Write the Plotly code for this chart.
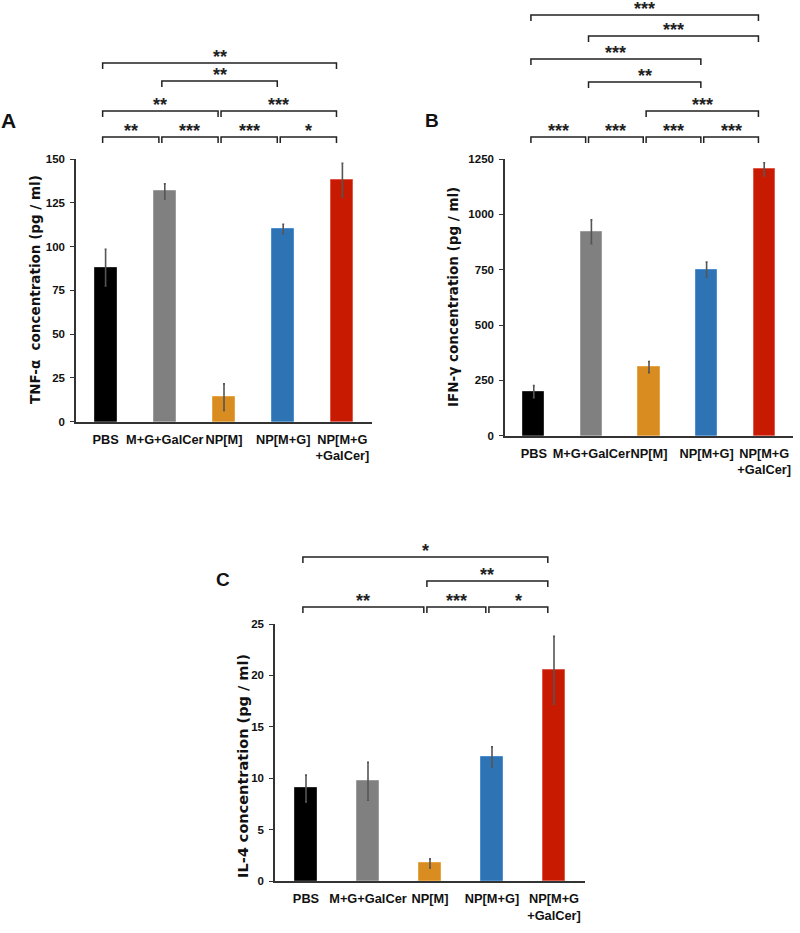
import plotly.graph_objects as go

W, H = 800, 933

# ---------------- data ----------------
categories = ["PBS", "M+G+GalCer", "NP[M]", "NP[M+G]", "NP[M+G<br>+GalCer]"]
bar_colors = ["#000000", "#808080", "#D98C20", "#2E74B5", "#C81A00"]
bar_outlines = ["#2a2a2a", "#9c9c9c", "#E6A445", "#4C8FD0", "#E0584A"]

tnf_values = [88, 131.5, 14, 110, 138]
tnf_errors = [10.5, 4.3, 7.6, 2.7, 9.6]
ifn_values = [199, 921, 310, 750, 1203]
ifn_errors = [27, 54, 25, 34, 30]
il4_values = [9.0, 9.7, 1.72, 12.05, 20.5]
il4_errors = [1.3, 1.85, 0.45, 1.0, 3.3]

tnf_ticks = [0, 25, 50, 75, 100, 125, 150]
ifn_ticks = [0, 250, 500, 750, 1000, 1250]
il4_ticks = [0, 5, 10, 15, 20, 25]

# significance comparisons: (group i, group j, label)
tnf_sig = [(0, 1, "**"), (1, 2, "***"), (2, 3, "***"), (3, 4, "*"),
           (0, 2, "**"), (2, 4, "***"), (1, 3, "**"), (0, 4, "**")]
ifn_sig = [(0, 1, "***"), (1, 2, "***"), (2, 3, "***"), (3, 4, "***"),
           (2, 4, "***"), (1, 3, "**"), (0, 3, "***"), (1, 4, "***"), (0, 4, "***")]
il4_sig = [(0, 2, "**"), (2, 3, "***"), (3, 4, "*"), (2, 4, "**"), (0, 4, "*")]

# ---------------- layout (pixels) ----------------
panels = [
    dict(name="A", xd=(76, 372), yd=(159, 421.7), rng=150, ticks=tnf_ticks,
         vals=tnf_values, errs=tnf_errors, sig=tnf_sig,
         levels=[22, 22, 22, 22, 48, 48, 78, 96],
         title="TNF-α\u00a0 concentration (pg / ml)", title_pos=(35, 290), title_size=13.5,
         label_pos=(8, 120), label_size=21),
    dict(name="B", xd=(505, 793), yd=(159, 435.7), rng=1250, ticks=ifn_ticks,
         vals=ifn_values, errs=ifn_errors, sig=ifn_sig,
         levels=[22, 22, 22, 22, 48, 77, 100, 123, 144],
         title="IFN-γ concentration (pg / ml)", title_pos=(453, 297), title_size=13.5,
         label_pos=(432, 120), label_size=19),
    dict(name="C", xd=(275, 585), yd=(624, 881), rng=25, ticks=il4_ticks,
         vals=il4_values, errs=il4_errors, sig=il4_sig,
         levels=[17, 17, 17, 43, 67],
         title="IL-4 concentration (pg / ml)", title_pos=(243, 766), title_size=14.5,
         label_pos=(223, 579), label_size=19),
]

TICK_FONT = "Liberation Sans Narrow, Arial Narrow, Liberation Sans, Arial, sans-serif"
TITLE_FONT = "DejaVu Sans, Verdana, sans-serif"

fig = go.Figure()
shapes = []
annotations = []

def fx(px):
    return px / W

def fy(py):
    return 1 - py / H

for k, p in enumerate(panels):
    sfx = "" if k == 0 else str(k + 1)
    xa, ya = "x" + sfx, "y" + sfx
    fig.add_trace(go.Bar(
        x=list(range(len(categories))), y=p["vals"],
        marker=dict(color=bar_colors, line=dict(color=bar_outlines, width=1)),
        width=0.37,
        error_y=dict(type="data", array=p["errs"], color="#555555", thickness=1.6, width=1),
        xaxis=xa, yaxis=ya, showlegend=False, hoverinfo="y",
    ))
    x0, x1 = p["xd"]
    y0, y1 = p["yd"]
    fig.layout["xaxis" + sfx] = dict(
        domain=[fx(x0), fx(x1)], anchor=ya, range=[-0.5, 4.5],
        tickmode="array", tickvals=list(range(len(categories))), ticktext=categories,
        tickangle=0, automargin=False,
        showline=True, linecolor="#333333", linewidth=1.5, ticks="", showgrid=False,
        zeroline=False, ticklabelstandoff=5,
        tickfont=dict(family=TICK_FONT, size=12.8, color="#111111", weight="bold"),
    )
    fig.layout["yaxis" + sfx] = dict(
        domain=[fy(y1), fy(y0)], anchor=xa, range=[0, p["rng"]],
        tickmode="array", tickvals=p["ticks"], automargin=False,
        showline=True, linecolor="#333333", linewidth=1.5, ticks="outside",
        ticklen=4, tickwidth=1.2, tickcolor="#333333", showgrid=False, zeroline=False,
        ticklabelstandoff=3,
        tickfont=dict(family=TICK_FONT, size=11.5, color="#111111", weight="bold"),
    )

    def cat_px(c):
        return x0 + (c + 0.5) / 5 * (x1 - x0)

    for (i, j, lab), lev in zip(p["sig"], p["levels"]):
        xl = cat_px(i - 0.05)
        xr = cat_px(j - 0.1)
        yl = y0 - lev
        path = "M {},{} L {},{} L {},{} L {},{}".format(
            fx(xl), fy(yl + 6), fx(xl), fy(yl), fx(xr), fy(yl), fx(xr), fy(yl + 6))
        shapes.append(dict(type="path", path=path, xref="paper", yref="paper",
                           line=dict(color="#222222", width=1.5)))
        annotations.append(dict(
            x=fx((xl + xr) / 2), y=fy(yl - 10), xref="paper", yref="paper",
            text=lab, showarrow=False, xanchor="center", yanchor="middle",
            font=dict(family="Liberation Sans, Arial, sans-serif", size=18,
                      color="#222222", weight="bold"),
            yshift=-4,
        ))

    tx, ty = p["title_pos"]
    annotations.append(dict(
        x=fx(tx), y=fy(ty), xref="paper", yref="paper", text=p["title"],
        textangle=-90, showarrow=False, xanchor="center", yanchor="middle",
        font=dict(family=TITLE_FONT, size=p["title_size"], color="#111111", weight="bold"),
    ))
    lx, ly = p["label_pos"]
    annotations.append(dict(
        x=fx(lx), y=fy(ly), xref="paper", yref="paper", text=p["name"],
        showarrow=False, xanchor="center", yanchor="middle",
        font=dict(family=TICK_FONT, size=p["label_size"], color="#111111", weight="bold"),
    ))

fig.update_layout(
    template="none",
    width=W, height=H, margin=dict(l=0, r=0, t=0, b=0, autoexpand=False),
    paper_bgcolor="white", plot_bgcolor="white",
    shapes=shapes, annotations=annotations, bargap=0,
)

fig.write_html(
    "out.html",
    config={"displayModeBar": False},
    post_script="document.body.style.margin='0px';document.body.style.overflow='hidden';",
)
